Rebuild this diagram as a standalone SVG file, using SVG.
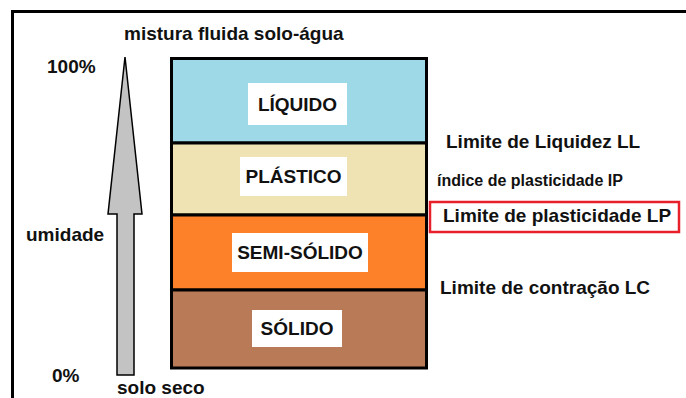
<svg xmlns="http://www.w3.org/2000/svg" width="686" height="398" viewBox="0 0 686 398">
<style>
text{font-family:"Liberation Sans",Arial,sans-serif;font-weight:bold;fill:#111;}
.t19{font-size:19px;}
.t16{font-size:16px;}
.mid{text-anchor:middle;}
.layer{stroke:#000;stroke-width:3;}
.lbl{fill:#fff;}
</style>
<rect width="686" height="398" fill="#fff"/>
<path d="M12.5 398 V11.5 H686" fill="none" stroke="#000" stroke-width="3"/>
<g id="title"><text class="t19" x="124" y="40">mistura fluida solo-água</text></g>
<g id="axis-labels">
<text class="t19" x="47" y="73">100%</text>
<text class="t19" x="26" y="241">umidade</text>
<text class="t19" x="52" y="382">0%</text>
<text class="t19" x="117" y="394">solo seco</text>
</g>
<g id="arrow">
<polygon points="125,57 142,214 134,214 134,375 117,375 117,214 108,214" fill="#c3c3c3" stroke="#000" stroke-width="1.5" stroke-linejoin="miter"/>
</g>
<g id="liquido">
<rect class="layer" x="171.5" y="58.5" width="255" height="84.5" fill="#9ed9e8"/>
<rect class="lbl" x="248" y="83" width="99" height="42"/>
<text class="t19 mid" x="297.5" y="111">LÍQUIDO</text>
</g>
<g id="plastico">
<rect class="layer" x="171.5" y="143" width="255" height="72" fill="#efe3b3"/>
<rect class="lbl" x="240" y="157" width="107" height="39"/>
<text class="t19 mid" x="293.5" y="183">PLÁSTICO</text>
</g>
<g id="semi-solido">
<rect class="layer" x="171.5" y="215" width="255" height="75" fill="#fd8128"/>
<rect class="lbl" x="232" y="233" width="136" height="39"/>
<text class="t19 mid" x="300" y="259">SEMI-SÓLIDO</text>
</g>
<g id="solido">
<rect class="layer" x="171.5" y="290" width="255" height="78" fill="#b97a57"/>
<rect class="lbl" x="252" y="310" width="90" height="37"/>
<text class="t19 mid" x="297" y="335">SÓLIDO</text>
</g>
<g id="limits">
<text class="t19" x="446" y="148">Limite de Liquidez LL</text>
<text class="t16" x="437" y="186">índice de plasticidade IP</text>
<rect x="430" y="202" width="249" height="30" fill="none" stroke="#e8202a" stroke-width="2.5"/>
<text class="t19" x="443" y="222">Limite de plasticidade LP</text>
<text class="t19" x="440" y="294">Limite de contração LC</text>
</g>
<g id="connectors"/>
</svg>
